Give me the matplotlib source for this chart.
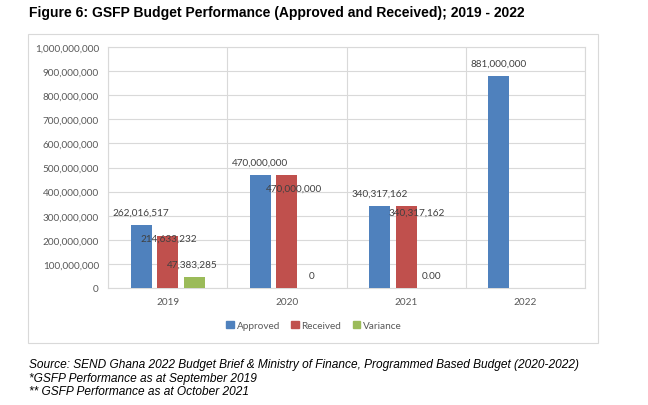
import matplotlib
matplotlib.use("Agg")
import matplotlib.pyplot as plt
from matplotlib.patches import Rectangle, Patch
from matplotlib.ticker import FuncFormatter, MultipleLocator
import numpy as np

# ---- data ----
years = ["2019", "2020", "2021", "2022"]
approved = [262016517, 470000000, 340317162, 881000000]
received = [214633232, 470000000, 340317162, None]
variance = [47383285, 0, 0, None]
approved_labels = ["262,016,517", "470,000,000", "340,317,162", "881,000,000"]
received_labels = ["214,633,232", "470,000,000", "340,317,162", ""]
variance_labels = ["47,383,285", "0", "0.00", ""]

title = "Figure 6: GSFP Budget Performance (Approved and Received); 2019 - 2022"
notes = [
    "Source: SEND Ghana 2022 Budget Brief & Ministry of Finance, Programmed Based Budget (2020-2022)",
    "*GSFP Performance as at September 2019",
    "** GSFP Performance as at October 2021",
]

# ---- style ----
W, H = 648, 406
C_APP, C_REC, C_VAR = "#4F81BD", "#C0504D", "#9BBB59"
GRID = "#D9D9D9"
TICK_C = "#595959"
LBL_C = "#404040"
FONT = "Lato"
FS = 7.2

fig = plt.figure(figsize=(W / 100, H / 100), dpi=100)
fig.patch.set_facecolor("white")

# chart border
fig.add_artist(Rectangle((28 / W, 1 - 344 / H), 570 / W, 309 / H,
                         transform=fig.transFigure, fill=False,
                         edgecolor=GRID, linewidth=0.8))

ax = fig.add_axes([108 / W, 1 - 289 / H, 477 / W, 241 / H])
x = np.arange(len(years))
bw = 0.176
step = 0.222

def vals(v):
    return [np.nan if a is None else a for a in v]

ax.bar(x - step, vals(approved), bw, color=C_APP, zorder=3)
ax.bar(x, vals(received), bw, color=C_REC, zorder=3)
ax.bar(x + step, vals(variance), bw, color=C_VAR, zorder=3)

ax.set_xlim(-0.5, len(years) - 0.5)
ax.set_ylim(0, 1_000_000_000)
ax.yaxis.set_major_locator(MultipleLocator(100_000_000))
ax.yaxis.set_major_formatter(FuncFormatter(lambda v, p: f"{int(v):,}"))
ax.set_xticks(x)
ax.set_xticklabels(years)
ax.tick_params(axis="both", length=0, labelsize=FS, colors=TICK_C, labelfontfamily=FONT)
ax.tick_params(axis="y", pad=6.5)
ax.tick_params(axis="x", pad=6.5)
ax.grid(axis="y", color=GRID, linewidth=0.8, zorder=0)
for b in np.arange(-0.5, len(years), 1.0):
    ax.axvline(b, color=GRID, linewidth=0.8, zorder=0)
for s in ax.spines.values():
    s.set_color(GRID)
    s.set_linewidth(0.8)

# data labels
def lab(xp, yv, text, dx, dy):
    if text:
        ax.annotate(text, (xp, yv), xytext=(dx, dy), textcoords="offset pixels",
                    ha="center", va="center", fontsize=FS, color=LBL_C, family=FONT,
                    zorder=5)

rec_off = [(1.5, -2), (7, -13), (10.5, -6), (0, 0)]
for i in range(len(years)):
    lab(x[i] - step, approved[i], approved_labels[i], 0, 12.5)
    if received[i] is not None:
        lab(x[i], received[i], received_labels[i], *rec_off[i])
    if variance[i] is not None:
        lab(x[i] + step, variance[i], variance_labels[i], -1.5, 12)

# legend
handles = [Patch(color=C_APP, label="Approved"),
           Patch(color=C_REC, label="Received"),
           Patch(color=C_VAR, label="Variance")]
leg = fig.legend(handles=handles, loc="center", bbox_to_anchor=(314 / W, 1 - 326.7 / H),
                 ncol=3, frameon=False, handlelength=0.75, handleheight=0.75,
                 handletextpad=0.3, columnspacing=1.1, borderpad=0,
                 prop={"family": FONT, "size": FS})
for t in leg.get_texts():
    t.set_color(TICK_C)

# title
fig.text(29 / W, 1 - 13 / H, title, ha="left", va="center", fontsize=10,
         fontweight="bold", family="Liberation Sans", color="black")

# notes
for yy, t in zip([365, 379, 392], notes):
    fig.text(29 / W, 1 - yy / H, t, ha="left", va="center", fontsize=8.6,
             style="italic", family="Liberation Sans", color="black")

fig.savefig("out.png", dpi=100)
